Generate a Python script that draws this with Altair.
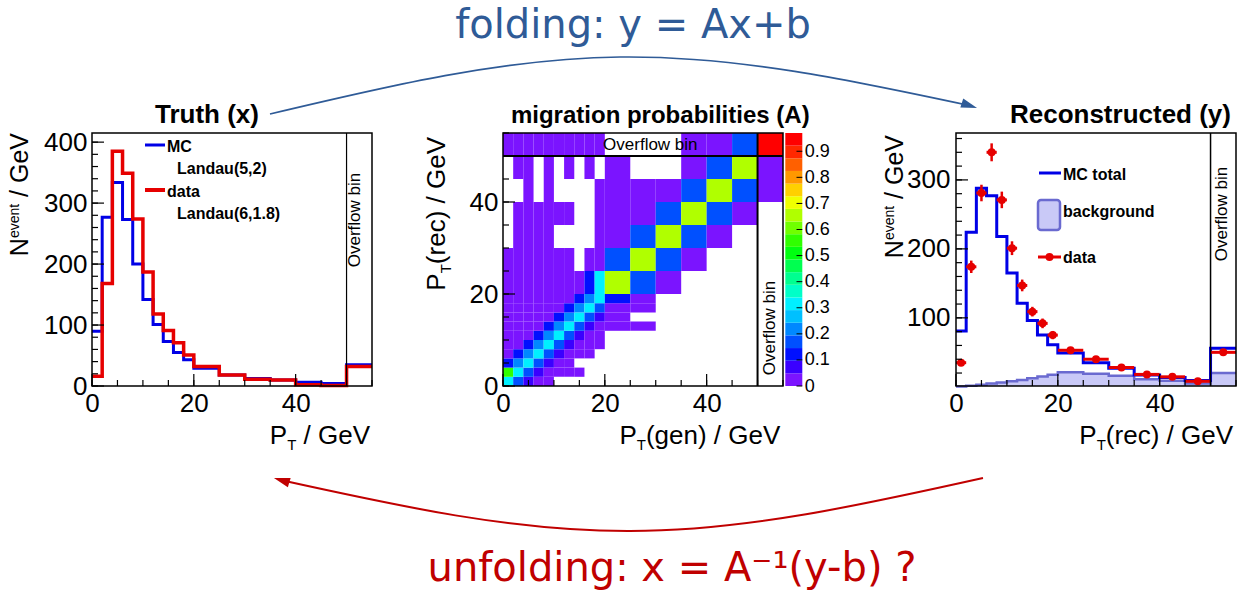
import altair as alt
import pandas as pd

# ---------------- binning (GeV), last bin is the overflow bin ----------------
EDGES = [0, 2, 4, 6, 8, 10, 12, 14, 16, 18, 20, 25, 30, 35, 40, 45, 50, 55]
OVERFLOW = 50

# ---------------- truth level, N_event / GeV ----------------
TRUTH_MC = [90, 277, 334, 273, 200, 142, 101, 73, 55, 43, 29, 18, 12.5, 10, 6, 4, 35]
TRUTH_DATA = [16, 168, 385, 349, 274, 187, 118, 91, 71, 51, 32, 18, 11, 10, 2, 1, 32]

# ---------------- reconstructed level, N_event / GeV ----------------
RECO_MC = [81, 224, 288, 277, 218, 165, 121, 96, 75, 61, 49, 35, 27, 17, 13.5, 9, 56]
RECO_BGR = [0.5, 1.5, 3, 5, 6.3, 8, 10, 12.6, 15, 17.4, 21, 19, 16, 11, 8.7, 5, 20]
RECO_DATA = [35, 174, 281, 340, 271, 201, 147, 109, 92, 75, 53, 40, 28, 18, 14.5, 8, 50]
RECO_DATA_ERR = [4, 9, 12, 13, 12, 10, 8.5, 7, 7, 6, 3.5, 3, 2.5, 2, 2, 1.5, 3]

# ---------------- migration probabilities ----------------
# one row per reconstructed bin (lowest first), one entry per generator bin;
# None = empty cell
N = None
MIGRATION = [
    [0.32, 0.17, 0.05, 0.02, 0.02, N, N, N, N, N, N, N, N, N, N, N, N],
    [0.55, 0.31, 0.18, 0.08, 0.02, 0.02, 0.02, 0.02, N, N, N, N, N, N, N, N, N],
    [0.12, 0.22, 0.31, 0.19, 0.08, 0.02, 0.02, N, N, N, N, N, N, N, N, N, N],
    [0.04, 0.10, 0.22, 0.30, 0.19, 0.08, 0.02, 0.02, 0.02, N, N, N, N, N, N, N, N],
    [0.02, 0.03, 0.10, 0.22, 0.30, 0.19, 0.08, 0.02, 0.02, 0.02, N, N, N, N, N, N, N],
    [0.02, 0.02, 0.03, 0.10, 0.22, 0.31, 0.19, 0.08, 0.02, 0.02, N, N, N, N, N, N, N],
    [0.02, 0.02, 0.02, 0.03, 0.10, 0.22, 0.30, 0.19, 0.08, 0.02, 0.02, 0.02, N, N, N, N, N],
    [0.02, 0.02, 0.02, 0.02, 0.03, 0.10, 0.22, 0.30, 0.19, 0.08, 0.02, N, N, N, N, N, N],
    [0.02, 0.02, 0.02, 0.02, 0.02, 0.03, 0.10, 0.22, 0.31, 0.19, 0.02, 0.02, N, N, N, N, N],
    [0.02, 0.02, 0.02, 0.02, 0.02, 0.02, 0.03, 0.10, 0.22, 0.30, 0.10, 0.02, N, N, N, N, N],
    [0.02, 0.02, 0.02, 0.02, 0.02, 0.02, 0.02, 0.03, 0.10, 0.30, 0.64, 0.16, 0.02, N, N, N, N],
    [0.02, 0.02, 0.02, 0.02, 0.02, 0.02, 0.02, N, 0.02, 0.02, 0.16, 0.64, 0.16, 0.02, N, N, N],
    [N, 0.02, 0.02, 0.02, 0.02, N, N, N, N, 0.02, 0.02, 0.16, 0.64, 0.16, 0.02, N, N],
    [N, 0.02, 0.02, 0.02, 0.02, 0.02, 0.02, N, N, 0.02, 0.02, 0.02, 0.16, 0.64, 0.16, 0.02, N],
    [N, N, 0.02, N, 0.02, N, N, N, N, 0.02, 0.02, 0.02, 0.02, 0.16, 0.64, 0.16, 0.02],
    [N, 0.02, 0.02, N, 0.02, N, 0.02, N, 0.02, N, 0.02, N, N, 0.02, 0.16, 0.64, 0.02],
    [0.02, 0.02, 0.02, 0.02, 0.02, 0.02, 0.02, 0.02, 0.02, 0.02, N, N, N, 0.02, 0.02, 0.16, 0.95],
]

# colour palette of the z axis (20 contour levels from 0 to ZMAX)
ZMAX = 0.97
PALETTE = ["#7b14ff", "#3a00ff", "#0010ff", "#0050ff", "#0088ff", "#00c0ff", "#00f0ff",
           "#00ffc8", "#00ff90", "#00ff50", "#00ff10", "#30ff00", "#70ff00", "#b0ff00",
           "#f0ff00", "#ffd000", "#ff9800", "#ff6000", "#ff2800", "#ff0000"]
CB_TICKS = [0, 0.1, 0.2, 0.3, 0.4, 0.5, 0.6, 0.7, 0.8, 0.9]

# ---------------- styles / layout ----------------
FONT = "Liberation Sans"
BIG_FONT = "DejaVu Sans"
BLUE = "#0000e6"
RED = "#e60000"
BGR_FILL = "#c9c9f7"
BGR_LINE = "#6a6ad0"
FOLD_COLOR = "#2f5b97"
UNFOLD_COLOR = "#c00000"
W, H = 280, 253
ORIGIN = (92, 133)          # top-left corner of the first plot frame on the page
ONE = pd.DataFrame({"k": [0]})

ARIAL_W = {" ": 278, "(": 333, ")": 333, "/": 278, "G": 778, "e": 556, "V": 667,
           "r": 333, "c": 500, "g": 556, "n": 556, "P": 667, "T": 611, "N": 722,
           "v": 500, "t": 278}


def arial_width(s, size):
    return sum(ARIAL_W[c] for c in s) * size / 1000.0


def note(text, x, y, size, weight="normal", align="left", baseline="alphabetic",
         angle=0, color="black", font=FONT):
    return alt.Chart(pd.DataFrame({"t": [text]})).mark_text(
        align=align, baseline=baseline, angle=angle, font=font, fontSize=size,
        fontWeight=weight, color=color
    ).encode(x=alt.value(x), y=alt.value(y), text="t:N")


def piece_width(part):
    text, size, _, gap = part
    return arial_width(text, size) + arial_width(" ", size) * gap


def title_h(parts, right, baseline):
    """Horizontal axis title from pieces (text, size, vertical shift, leading spaces), right aligned."""
    x = right - sum(piece_width(p) for p in parts)
    out = []
    for p in parts:
        text, size, shift, gap = p
        out.append(note(text, x + arial_width(" ", size) * gap, baseline + shift, size))
        x += piece_width(p)
    return out


def title_v(parts, top, base_x):
    """Rotated axis title reading upwards, ending at `top`."""
    y = top + sum(piece_width(p) for p in parts)
    out = []
    for p in parts:
        text, size, shift, gap = p
        out.append(note(text, base_x + shift, y - arial_width(" ", size) * gap, size, angle=270))
        y -= piece_width(p)
    return out


def make_axes(xdom, ydom, yvals, ypad):
    sx = alt.Scale(domain=xdom, nice=False, zero=False)
    sy = alt.Scale(domain=ydom, nice=False, zero=False)
    common = dict(title=None, grid=False, ticks=False, domain=False, labelFont=FONT,
                  labelFontSize=26, labelColor="black", labelOverlap=False, labelFlush=False)
    ax = alt.Axis(values=[0, 20, 40], labelPadding=4, **common)
    ay = alt.Axis(values=yvals, labelPadding=ypad, **common)

    def X(f):
        return alt.X(f + ":Q", scale=sx, axis=ax)

    def Y(f):
        return alt.Y(f + ":Q", scale=sy, axis=ay)
    return X, Y


def tick_marks(X, Y, xmaj, xmin, ymaj, ymin):
    out = []
    for vals, length in ((ymin, 6), (ymaj, 12)):
        out.append(alt.Chart(pd.DataFrame({"t": vals})).mark_rule(color="black", strokeWidth=1.2)
                   .encode(y=Y("t"), x=alt.value(0), x2=alt.value(length)))
    for vals, length in ((xmin, 6), (xmaj, 12)):
        out.append(alt.Chart(pd.DataFrame({"t": vals})).mark_rule(color="black", strokeWidth=1.2)
                   .encode(x=X("t"), y=alt.value(H), y2=alt.value(H - length)))
    return out


def frame(width=1.5):
    return alt.Chart(ONE).mark_rect(fillOpacity=0, stroke="black", strokeWidth=width).encode(
        x=alt.value(0), x2=alt.value(W), y=alt.value(0), y2=alt.value(H))


def overflow_line(X, width):
    return alt.Chart(pd.DataFrame({"x": [OVERFLOW]})).mark_rule(color="black", strokeWidth=width).encode(x=X("x"))


def steps(values):
    return pd.DataFrame({"x": EDGES, "y": list(values) + [values[-1]]})


X_MIN = list(range(0, 56, 5))
PT_X = lambda tail: [("P", 26, 0, 0), ("T", 15, 6, 0), (tail, 26, 0, 0), ("/ GeV", 26, 0, 1)]
NEV_Y = [("N", 25, 0, 0), ("event", 14, -9, 0), ("/ GeV", 25, 0, 1)]

# ======================= truth panel =======================
tX, tY = make_axes([0, 55], [0, 415], [0, 100, 200, 300, 400], 5)
truth_layers = [
    alt.Chart(steps(TRUTH_MC)).mark_line(interpolate="step-after", color=BLUE, strokeWidth=3)
    .encode(x=tX("x"), y=tY("y")),
    alt.Chart(steps(TRUTH_DATA)).mark_line(interpolate="step-after", color=RED, strokeWidth=3.5)
    .encode(x=tX("x"), y=tY("y")),
    overflow_line(tX, 1.2),
]
truth_layers += tick_marks(tX, tY, [0, 20, 40], X_MIN, [0, 100, 200, 300, 400], list(range(0, 415, 20)))
truth_layers += [
    note("Overflow bin", 263, 87, 17, align="center", baseline="middle", angle=270),
    alt.Chart(ONE).mark_rule(color=BLUE, strokeWidth=3).encode(x=alt.value(53), x2=alt.value(73), y=alt.value(12)),
    note("MC", 75, 19, 16, weight="bold"),
    note("Landau(5,2)", 85, 41, 16, weight="bold"),
    alt.Chart(ONE).mark_rule(color=RED, strokeWidth=4).encode(x=alt.value(53), x2=alt.value(73), y=alt.value(57)),
    note("data", 75, 64, 16, weight="bold"),
    note("Landau(6,1.8)", 85, 86, 16, weight="bold"),
    note("Truth (x)", 115, -10, 26, weight="bold", align="center"),
]
truth_layers += title_h([p for p in PT_X("") if p[0]], 278, 311)
truth_layers += title_v(NEV_Y, 0, -64)
truth_layers.append(frame())

# ---- folding / unfolding annotations spanning the whole figure ----
ox, oy = ORIGIN
fold_path = pd.DataFrame({"x": [270 - ox, 620 - ox, 969.4 - ox], "y": [114 - oy, 57 - oy, 105.5 - oy]})
unfold_path = pd.DataFrame({"x": [281.6 - ox, 630 - ox, 983 - ox], "y": [480.3 - oy, 531 - oy, 478 - oy]})
HEAD = "M1,0L-1,-0.6L-1,0.6Z"
truth_layers += [
    alt.Chart(fold_path).mark_line(interpolate="natural", color=FOLD_COLOR, strokeWidth=1.6)
    .encode(x=alt.X("x:Q", scale=None), y=alt.Y("y:Q", scale=None)),
    alt.Chart(ONE).mark_point(shape=HEAD, filled=True, size=256, angle=18, color=FOLD_COLOR, opacity=1)
    .encode(x=alt.value(969.4 - ox), y=alt.value(105.5 - oy)),
    alt.Chart(unfold_path).mark_line(interpolate="natural", color=UNFOLD_COLOR, strokeWidth=2)
    .encode(x=alt.X("x:Q", scale=None), y=alt.Y("y:Q", scale=None)),
    alt.Chart(ONE).mark_point(shape=HEAD, filled=True, size=256, angle=197, color=UNFOLD_COLOR, opacity=1)
    .encode(x=alt.value(281.6 - ox), y=alt.value(480.3 - oy)),
    note("folding: y = Ax+b", 633 - ox, 38 - oy, 40, align="center", color=FOLD_COLOR, font=BIG_FONT),
    note("unfolding: x = A\u207b\u00b9(y-b) ?", 672 - ox, 581 - oy, 40, align="center",
         color=UNFOLD_COLOR, font=BIG_FONT),
    # transparent page-sized backdrop fixing the drawing origin
    alt.Chart(ONE).mark_rect(opacity=0).encode(
        x=alt.value(-ox), x2=alt.value(1247 - ox), y=alt.value(-oy), y2=alt.value(591 - oy)),
]
truth = alt.layer(*truth_layers).properties(width=W, height=H)

# ======================= migration matrix panel =======================
mX, mY = make_axes([0, 55], [0, 55], [0, 20, 40], 5)
cells = []
for j, row in enumerate(MIGRATION):
    for i, v in enumerate(row):
        if v is not None:
            cells.append({"x0": EDGES[i], "x1": EDGES[i + 1], "y0": EDGES[j], "y1": EDGES[j + 1], "p": v})
cells = pd.DataFrame(cells)

step = ZMAX / 20
THRESH = [round(step * k, 5) for k in range(1, 20)]
CSCALE = alt.Scale(type="threshold", domain=THRESH, range=PALETTE)

matrix_layers = [
    alt.Chart(cells).mark_rect(strokeWidth=0).encode(
        x=mX("x0"), x2="x1", y=mY("y0"), y2="y1",
        color=alt.Color("p:Q", scale=CSCALE, legend=None)),
    overflow_line(mX, 2),
    alt.Chart(pd.DataFrame({"y": [OVERFLOW]})).mark_rule(color="black", strokeWidth=2).encode(y=mY("y")),
]
matrix_layers += tick_marks(mX, mY, [0, 20, 40], X_MIN, [0, 20, 40], X_MIN)
matrix_layers += [
    note("Overflow bin", 147.3, 17, 17, align="center"),
    note("Overflow bin", 266.8, 195, 17, align="center", baseline="middle", angle=270),
    note("migration probabilities (A)", 157.3, -10, 24, weight="bold", align="center"),
]
matrix_layers += title_h(PT_X("(gen)"), 277.3, 311)
matrix_layers += title_v([("P", 26, 0, 0), ("T", 15, 6, 0), ("(rec)", 26, 0, 0), ("/ GeV", 26, 0, 1)], 4, -57.7)
matrix_layers.append(frame())

cb = pd.DataFrame({"lo": [k * step for k in range(20)],
                   "hi": [(k + 1) * step for k in range(20)],
                   "mid": [(k + 0.5) * step for k in range(20)]})
cb_scale = alt.Scale(domain=[0, ZMAX], nice=False, zero=False)
cb_axis = alt.Axis(orient="right", offset=19.3, values=CB_TICKS, title=None, grid=False, ticks=False,
                   domain=False, labelFont=FONT, labelFontSize=18, labelPadding=2, labelColor="black",
                   labelOverlap=False, labelFlush=False,
                   labelExpr="datum.value == 0 ? '0' : format(datum.value, '.1f')")
colorbar = alt.layer(
    alt.Chart(cb).mark_rect(strokeWidth=0).encode(
        x=alt.value(282.3), x2=alt.value(299.3),
        y=alt.Y("lo:Q", scale=cb_scale, axis=cb_axis), y2="hi:Q",
        color=alt.Color("mid:Q", scale=CSCALE, legend=None)),
    alt.Chart(pd.DataFrame({"t": CB_TICKS})).mark_rule(color="black", strokeWidth=1).encode(
        y=alt.Y("t:Q", scale=cb_scale, axis=cb_axis), x=alt.value(293.5), x2=alt.value(299.3)),
)
matrix = alt.layer(alt.layer(*matrix_layers), colorbar).resolve_scale(y="independent").properties(width=W, height=H)

# ======================= reconstructed panel =======================
rX, rY = make_axes([0, 55], [1.2, 368], [100, 200, 300], 6)
centres = [(a + b) / 2 for a, b in zip(EDGES[:-1], EDGES[1:])]
pts = pd.DataFrame({"c": centres, "a": EDGES[:-1], "b": EDGES[1:], "v": RECO_DATA,
                    "lo": [v - e for v, e in zip(RECO_DATA, RECO_DATA_ERR)],
                    "hi": [v + e for v, e in zip(RECO_DATA, RECO_DATA_ERR)]})
reco_layers = [
    alt.Chart(steps(RECO_BGR)).mark_area(interpolate="step-after", color=BGR_FILL, clip=True)
    .encode(x=rX("x"), y=rY("y")),
    alt.Chart(steps(RECO_BGR)).mark_line(interpolate="step-after", color=BGR_LINE, strokeWidth=2.5)
    .encode(x=rX("x"), y=rY("y")),
    alt.Chart(steps(RECO_MC)).mark_line(interpolate="step-after", color=BLUE, strokeWidth=3)
    .encode(x=rX("x"), y=rY("y")),
    alt.Chart(pts).mark_rule(color=RED, strokeWidth=3).encode(x=rX("a"), x2="b", y=rY("v")),
    alt.Chart(pts).mark_rule(color=RED, strokeWidth=2.5).encode(x=rX("c"), y=rY("lo"), y2="hi"),
    alt.Chart(pts).mark_point(filled=True, size=64, color=RED, opacity=1).encode(x=rX("c"), y=rY("v")),
    overflow_line(rX, 1.5),
]
reco_layers += tick_marks(rX, rY, [0, 20, 40], X_MIN, [100, 200, 300], list(range(20, 368, 20)))
reco_layers += [
    note("Overflow bin", 266, 81, 17, align="center", baseline="middle", angle=270),
    alt.Chart(ONE).mark_rule(color=BLUE, strokeWidth=3).encode(x=alt.value(83), x2=alt.value(105), y=alt.value(40)),
    note("MC total", 107, 47, 16, weight="bold"),
    alt.Chart(ONE).mark_rect(cornerRadius=3, fill=BGR_FILL, stroke=BGR_LINE, strokeWidth=2.5).encode(
        x=alt.value(82), x2=alt.value(104), y=alt.value(67), y2=alt.value(97)),
    note("background", 107, 84, 16, weight="bold"),
    alt.Chart(ONE).mark_rule(color=RED, strokeWidth=3).encode(x=alt.value(82), x2=alt.value(105), y=alt.value(124)),
    alt.Chart(ONE).mark_point(filled=True, size=64, color=RED, opacity=1).encode(x=alt.value(93.5), y=alt.value(124)),
    note("data", 107, 130, 16, weight="bold"),
    note("Reconstructed (y)", 275, -10, 26, weight="bold", align="right"),
]
reco_layers += title_h(PT_X("(rec)"), 277, 311)
reco_layers += title_v(NEV_Y, 2, -53)
reco_layers.append(frame())
reco = alt.layer(*reco_layers).properties(width=W, height=H)


def spacer(width):
    return alt.Chart(ONE).mark_point(opacity=0).encode(
        x=alt.X("k:Q", axis=None), y=alt.Y("k:Q", axis=None)).properties(width=width, height=H)


chart = alt.hconcat(truth, spacer(90.7), matrix, spacer(132.3), reco, spacing=20, bounds="flush") \
    .properties(padding=0) \
    .configure_view(strokeWidth=0)

chart.save("out.html", embed_options={"renderer": "svg", "actions": False})
